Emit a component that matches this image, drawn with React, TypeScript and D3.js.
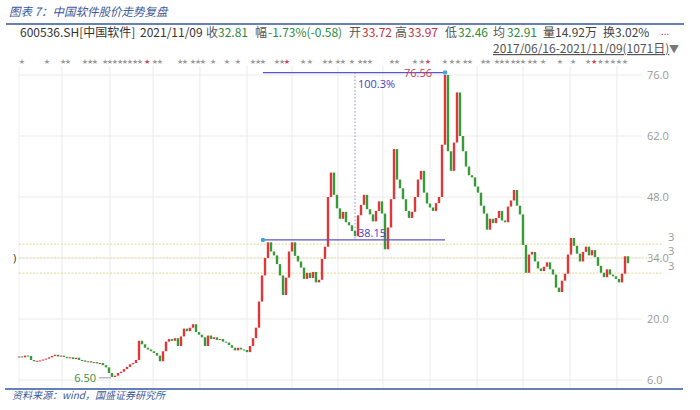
import React from "react";
import * as d3 from "d3";

const closes: number[] = [
  11.4, 11.2, 11.6, 11.5, 10.6, 10.3, 10.4, 10.5, 10.7, 10.9,
  11.2, 11.5, 11.8, 11.4, 11.6, 11.3, 11.0, 11.2, 10.8, 11.1,
  10.6, 10.5, 10.2, 10.3, 10.0, 10.1, 9.8, 9.9, 9.4, 8.9,
  7.6, 6.7, 7.0, 7.6, 7.9, 8.5, 9.0, 9.6, 9.9, 10.6,
  15.0, 14.2, 13.4, 13.0, 12.6, 12.2, 11.6, 10.3, 12.6, 14.8,
  15.4, 15.0, 15.6, 13.8, 16.0, 17.8, 17.2, 18.0, 18.8, 17.0,
  16.4, 15.8, 13.8, 16.2, 15.4, 15.8, 15.2, 15.4, 14.8, 14.6,
  14.0, 13.4, 12.8, 13.4, 13.0, 12.9, 12.4, 13.8, 15.6, 18.0,
  24.0, 30.0, 34.0, 37.6, 35.5, 34.6, 32.6, 30.0, 25.5, 29.5,
  35.5, 37.6, 34.5, 33.2, 31.8, 29.2, 30.6, 29.4, 30.8, 28.4,
  29.0, 33.8, 36.6, 48.0, 53.6, 48.5, 45.4, 43.0, 44.6, 42.2,
  41.5, 40.2, 39.0, 43.8, 46.2, 48.5, 45.2, 44.0, 42.4, 44.8,
  47.0, 44.2, 36.0, 41.0, 47.5, 59.0, 52.0, 50.0, 47.5, 44.8,
  43.2, 44.6, 48.0, 52.0, 54.0, 49.0, 46.5, 45.6, 44.8, 46.6,
  48.0, 60.0, 76.0, 58.5, 54.0, 60.5, 72.0, 62.0, 58.5, 55.0,
  53.0, 52.5, 50.4, 49.0, 46.0, 44.2, 40.5, 43.0, 42.0, 43.2,
  44.8, 42.6, 42.2, 45.8, 47.2, 49.6, 46.0, 44.0, 37.0, 30.6,
  34.8, 35.4, 33.2, 31.6, 31.0, 32.0, 33.0, 31.4, 30.2, 27.2,
  26.2, 28.8, 30.4, 34.8, 38.6, 36.8, 35.0, 33.2, 35.4, 36.6,
  34.6, 35.8, 34.2, 32.2, 30.6, 29.6, 31.4, 30.2, 29.8, 29.2,
  28.4, 30.4, 34.4, 32.81,
];

const yTicks: number[] = [76, 62, 48, 34, 20, 6];
const gridIdx: number[] = [14.3, 30.3, 44.7, 60.3, 76, 91, 106.3, 121.3, 137, 152.7, 168, 183.7, 199.3];
const refLines: number[] = [37.2, 34.0, 30.55];
const starIdx: number[] = [
  1, 9.3, 14.7, 16.3, 22, 23.7, 25.3, 28.7, 30.3, 32, 33.7, 35.3, 37, 38.7, 40.3,
  45.3, 47, 53.7, 55.3, 58, 59.7, 61.3, 64.7, 69.3, 73, 78, 79.7, 81.3, 86, 87.7,
  94.7, 97, 102, 103.7, 106.3, 108, 111, 113.7, 115.3, 117, 124.3, 126, 132, 134.3,
  142, 144.3, 146.3, 148.7, 150.3, 154.7, 156.3, 159.3, 161, 162.7, 164.7, 166.3,
  168, 170.3, 172, 174.7, 180.3, 184.7, 189.7, 193.8, 196, 198, 200, 202,
];
const redStarIdx: number[] = [42.7, 89.3, 136.3, 191.7];

const lowPoint = { idx: 31, value: 6.5, label: "6.50" };
const startPoint = { idx: 81.3, value: 38.15 };
const troughPoint = { idx: 112, value: 38.15, label: "38.15" };
const peakPoint = { idx: 142, value: 76.56, label: "76.56" };
const gainLabel = "100.3%";

const headerItems: { t: string; c: string }[] = [
  { t: "600536.SH[中国软件]", c: "#333" },
  { t: "2021/11/09", c: "#333" },
  { t: "收", c: "#555" }, { t: "32.81", c: "#2e8b3a" },
  { t: "幅", c: "#555" }, { t: "-1.73%(-0.58)", c: "#2e8b3a" },
  { t: "开", c: "#555" }, { t: "33.72", c: "#c8323c" },
  { t: "高", c: "#555" }, { t: "33.97", c: "#c8323c" },
  { t: "低", c: "#555" }, { t: "32.46", c: "#2e8b3a" },
  { t: "均", c: "#555" }, { t: "32.91", c: "#2e8b3a" },
  { t: "量14.92万", c: "#444" },
  { t: "换3.02%", c: "#444" },
];
const headerX: number[] = [20, 140, 206, 218, 255, 268, 349, 362, 395, 408, 445, 458, 493, 507, 543, 603];

export default function App() {
  const x = d3.scaleLinear().domain([0, closes.length - 1]).range([19, 628]);
  const y = d3.scaleLinear().domain([6, 76]).range([380, 75]);
  const font = "'Noto Sans CJK SC', 'Noto Sans', sans-serif";
  const annColor = "#5a55c8";

  return (
    <div style={{ position: "absolute", left: 0, top: 0 }}>
      <svg width={700} height={410} style={{ display: "block", background: "#fff" }}>
        {/* title */}
        <text x={9} y={16} fontSize={11.5} fontStyle="italic" fill="#3a5a9c" fontFamily={font}>
          图表 7：中国软件股价走势复盘
        </text>
        <line x1={6} x2={684} y1={24} y2={24} stroke="#3656a0" strokeWidth={1.5} />

        {/* header row */}
        {headerItems.map((h, i) => (
          <text key={i} x={headerX[i]} y={37} fontSize={12} fill={h.c} fontFamily={font}>
            {h.t}
          </text>
        ))}
        <text x={661} y={35} fontSize={10} fill="#c8323c" fontFamily={font}>...</text>
        <text x={493} y={53} fontSize={12} fill="#555" fontFamily={font} textDecoration="underline">
          2017/06/16-2021/11/09(1071日)
        </text>
        <text x={669} y={53} fontSize={10} fill="#777" fontFamily={font}>▼</text>

        {/* vertical grid */}
        <line x1={19} x2={19} y1={66} y2={388} stroke="#f0f0f0" />
        {gridIdx.map((g, i) => (
          <line key={i} x1={x(g)} x2={x(g)} y1={66} y2={388} stroke="#ebebeb" />
        ))}
        {/* horizontal grid */}
        {yTicks.map((t, i) => (
          <g key={i}>
            <line x1={19} x2={642} y1={y(t)} y2={y(t)} stroke="#ebebeb" />
            <text x={647} y={y(t) + 4} fontSize={11} fill="#999" fontFamily="'Open Sans', sans-serif">
              {t.toFixed(1)}
            </text>
          </g>
        ))}
        {/* reference dotted lines */}
        {refLines.map((r, i) => (
          <g key={i}>
            <line x1={19} x2={662} y1={y(r)} y2={y(r)} stroke="#e6dfa6" strokeDasharray="2,1.5" strokeWidth={1.2} />
            <text x={668} y={y(r) - 3} fontSize={11} fill="#999" fontFamily="'Open Sans', sans-serif">3</text>
          </g>
        ))}
        <text x={13} y={y(34) + 4} fontSize={11} fill="#333" fontFamily="'Open Sans', sans-serif">)</text>

        {/* event stars */}
        {starIdx.map((s, i) => (
          <text key={i} x={x(s)} y={64} fontSize={7} fill="#9a9a9a" textAnchor="middle" fontFamily="'DejaVu Sans', sans-serif">★</text>
        ))}
        {redStarIdx.map((s, i) => (
          <text key={i} x={x(s)} y={64} fontSize={7} fill="#d0406a" textAnchor="middle" fontFamily="'DejaVu Sans', sans-serif">★</text>
        ))}

        {/* candles */}
        {closes.map((c, i) => {
          const o = i > 0 ? closes[i - 1] : c;
          const up = c >= o;
          const top = y(Math.max(o, c));
          const bot = y(Math.min(o, c));
          return (
            <rect key={i} x={x(i) - 1.2} y={top} width={2.4} height={Math.max(1, bot - top)}
              fill={up ? "#e0383a" : "#3a9a3a"} />
          );
        })}

        {/* annotations */}
        <line x1={x(startPoint.idx)} x2={x(peakPoint.idx)} y1={y(peakPoint.value)} y2={y(peakPoint.value)} stroke={annColor} strokeWidth={1.2} />
        <line x1={x(startPoint.idx)} x2={x(peakPoint.idx)} y1={y(startPoint.value)} y2={y(startPoint.value)} stroke={annColor} strokeWidth={1.2} />
        <line x1={x(troughPoint.idx)} x2={x(troughPoint.idx)} y1={y(peakPoint.value)} y2={y(troughPoint.value)} stroke="#8a88c8" strokeDasharray="1.5,2" />
        <circle cx={x(peakPoint.idx)} cy={y(peakPoint.value)} r={2.2} fill="#3aa8d8" />
        <circle cx={x(startPoint.idx)} cy={y(startPoint.value)} r={2.2} fill="#3aa8d8" />
        <text x={x(peakPoint.idx) - 13} y={y(peakPoint.value) + 4} fontSize={11} fill="#d0405a" textAnchor="end" fontFamily="'Open Sans', sans-serif">
          {peakPoint.label}
        </text>
        <text x={x(troughPoint.idx) + 3} y={y(peakPoint.value) + 15} fontSize={11} fill="#4a40c0" fontFamily="'Open Sans', sans-serif">
          {gainLabel}
        </text>
        <text x={x(troughPoint.idx) + 3} y={y(troughPoint.value) - 3} fontSize={11} fill="#4a40c0" fontFamily="'Open Sans', sans-serif">
          {troughPoint.label}
        </text>
        <line x1={x(lowPoint.idx) - 13} x2={x(lowPoint.idx) - 1} y1={y(lowPoint.value)} y2={y(lowPoint.value)} stroke="#99a" />
        <text x={x(lowPoint.idx) - 16} y={y(lowPoint.value) + 4} fontSize={11} fill="#3a8a3a" textAnchor="end" fontFamily="'Open Sans', sans-serif">
          {lowPoint.label}
        </text>

        {/* footer */}
        <line x1={5} x2={683} y1={389} y2={389} stroke="#3656a0" strokeWidth={1.5} />
        <text x={12} y={399} fontSize={10} fontStyle="italic" fill="#3a5a9c" fontFamily={font}>
          资料来源：wind，国盛证券研究所
        </text>
      </svg>
    </div>
  );
}
